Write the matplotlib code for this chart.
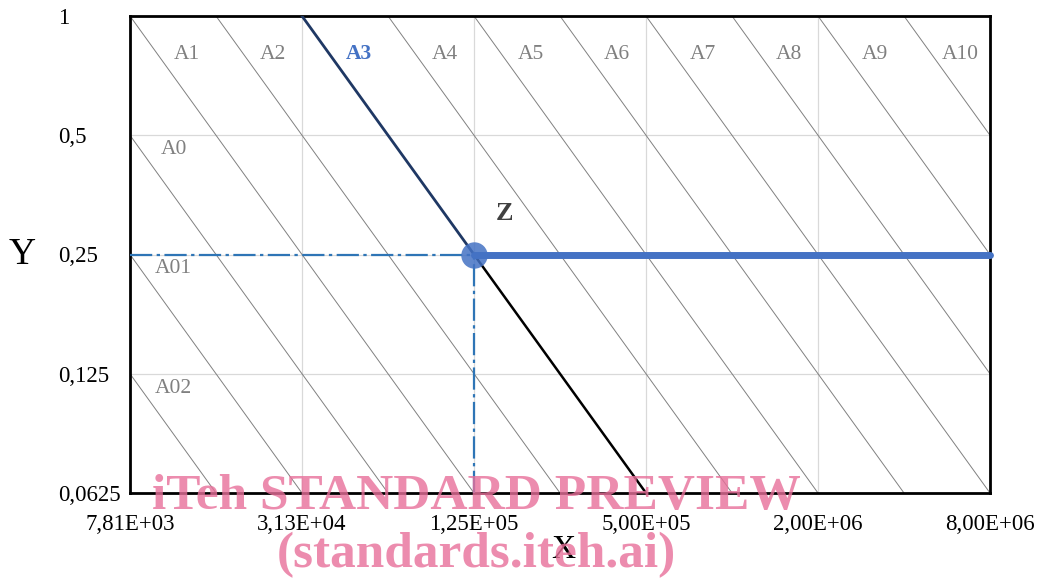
import matplotlib
matplotlib.use("Agg")
import matplotlib.pyplot as plt

# axis ticks
x_ticks = [7812.5, 31250, 125000, 500000, 2000000, 8000000]
x_labels = ['7,81E+03', '3,13E+04', '1,25E+05', '5,00E+05', '2,00E+06', '8,00E+06']
y_ticks = [0.0625, 0.125, 0.25, 0.5, 1]
y_labels = ['0,0625', '0,125', '0,25', '0,5', '1']

# class lines  y = C / x
class_names = ['A02', 'A01', 'A0', 'A1', 'A2', 'A3', 'A4', 'A5', 'A6', 'A7', 'A8', 'A9', 'A10']
class_const = [976.5625, 1953.125, 3906.25, 7812.5, 15625, 31250, 62500, 125000,
               250000, 500000, 1000000, 2000000, 4000000]

# point Z and its class
z_x = 125000
z_y = 0.25
z_class = 31250

plt.rcParams['font.family'] = ['Liberation Serif', 'DejaVu Serif']

fig = plt.figure(figsize=(10.39, 5.80), dpi=100)
ax = fig.add_axes([130/1039, 1-493/580, 860/1039, 477/580])
ax.set_xscale('log', base=2)
ax.set_yscale('log', base=2)
xmin, xmax = x_ticks[0], x_ticks[-1]
ymin, ymax = y_ticks[0], y_ticks[-1]
ax.set_xlim(xmin, xmax)
ax.set_ylim(ymin, ymax)

# grid
for xt in x_ticks[1:-1]:
    ax.axvline(xt, color='#d9d9d9', lw=0.9, zorder=0)
for yt in y_ticks[1:-1]:
    ax.axhline(yt, color='#d9d9d9', lw=0.9, zorder=0)

# class lines + labels
for name, c in zip(class_names, class_const):
    ax.plot([c / ymax, c / ymin], [ymax, ymin], color='#808080', lw=0.7, zorder=1)
    col = '#4472C4' if c == z_class else '#808080'
    fw = 'bold' if c == z_class else 'normal'
    if c >= xmin:
        ax.text(c * 1.58, 0.80, name, color=col, fontsize=15.5, fontweight=fw,
                ha='center', va='center', zorder=3)
    else:
        ax.text(xmin * 1.42, c / xmin * 0.92, name, color=col, fontsize=15.5,
                ha='center', va='center', zorder=3)

# highlighted class line
ax.plot([z_class / ymax, z_x], [ymax, z_y], color='#1F3864', lw=2.0, zorder=4)
ax.plot([z_x, z_class / ymin], [z_y, ymin], color='black', lw=1.8, zorder=4)

# dash-dot guides
ax.plot([xmin, z_x], [z_y, z_y], color='#2E75B6', lw=1.6, dashes=(10, 2, 1.5, 2), zorder=5)
ax.plot([z_x, z_x], [ymin, z_y], color='#2E75B6', lw=1.6, dashes=(10, 2, 1.5, 2), zorder=5)

# thick blue line
ax.plot([z_x, xmax], [z_y, z_y], color='#4472C4', lw=5, solid_capstyle='round',
        zorder=6, clip_on=False)
ax.plot([z_x], [z_y], 'o', color='#4472C4', ms=19, alpha=0.85, mec='none', zorder=7)
ax.text(z_x * 1.28, z_y * 1.27, 'Z', fontsize=19, fontweight='bold', color='#404040',
        ha='center', va='center', zorder=8)

ax.set_xticks(x_ticks)
ax.set_xticklabels(x_labels, fontsize=16.5)
ax.set_yticks(y_ticks)
ax.set_yticklabels(y_labels, fontsize=16.5)
ax.minorticks_off()
ax.tick_params(axis='both', length=0)
ax.tick_params(axis='x', pad=15)
ax.tick_params(axis='y', pad=52)
for lab in ax.get_yticklabels():
    lab.set_ha('left')

for s in ax.spines.values():
    s.set_linewidth(2)
    s.set_color('black')

fig.text(22/1039, 1-255/580, 'Y', fontsize=27, ha='center', va='center')
fig.text(563/1039, 1-550/580, 'X', fontsize=24, ha='center', va='center')

# watermark
fig.text(476/1039, 1-497/580, 'iTeh STANDARD PREVIEW', fontsize=37, fontweight='bold',
         color='#E8709A', alpha=0.8, ha='center', va='center')
fig.text(476/1039, 1-555/580, '(standards.iteh.ai)', fontsize=37, fontweight='bold',
         color='#E8709A', alpha=0.8, ha='center', va='center')

fig.savefig('out.png', dpi=100)
